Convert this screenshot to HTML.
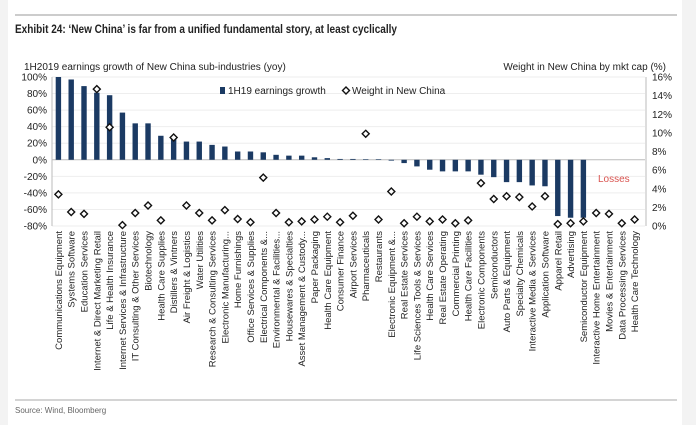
<!DOCTYPE html>
<html><head><meta charset="utf-8"><style>
body{margin:0;background:#f3f3f3;}
svg{display:block;font-family:"Liberation Sans",sans-serif;}
</style></head><body>
<svg width="696" height="425" viewBox="0 0 696 425">
<rect x="8" y="0" width="674" height="425" fill="#fff"/>
<line x1="15" y1="15" x2="677" y2="15" stroke="#999" stroke-width="1"/>
<text x="15" y="33" font-size="12" font-weight="bold" fill="#222" textLength="382" lengthAdjust="spacingAndGlyphs">Exhibit 24: ‘New China’ is far from a unified fundamental story, at least cyclically</text>
<text x="24" y="70" font-size="10" fill="#222">1H2019 earnings growth of New China sub-industries (yoy)</text>
<text x="666" y="70" font-size="10" fill="#222" text-anchor="end">Weight in New China by mkt cap (%)</text>
<g id="grid"></g>
<g id="bars"></g>
<g id="marks"></g>
<g id="axes"></g>
<g id="labels"></g>
<rect x="220" y="87" width="5" height="7" fill="#1b3a63"/>
<text x="228" y="94" font-size="10" fill="#222">1H19 earnings growth</text>
<path d="M346 87 l3.5 3.5 l-3.5 3.5 l-3.5 -3.5z" fill="#fff" stroke="#111" stroke-width="1.4"/>
<text x="352" y="94" font-size="10" fill="#222">Weight in New China</text>
<text x="598" y="182" font-size="10" fill="#d9534f">Losses</text>
<line x1="15" y1="400" x2="677" y2="400" stroke="#aaa" stroke-width="1"/>
<text x="15" y="413" font-size="8" fill="#666">Source: Wind, Bloomberg</text>
</svg>
<script>
const categories=["Communications Equipment","Systems Software","Education Services","Internet & Direct Marketing Retail","Life & Health Insurance","Internet Services & Infrastructure","IT Consulting & Other Services","Biotechnology","Health Care Supplies","Distillers & Vintners","Air Freight & Logistics","Water Utilities","Research & Consulting Services","Electronic Manufacturing...","Home Furnishings","Office Services & Supplies","Electrical Components &...","Environmental & Facilities...","Housewares & Specialties","Asset Management & Custody...","Paper Packaging","Health Care Equipment","Consumer Finance","Airport Services","Pharmaceuticals","Restaurants","Electronic Equipment &...","Real Estate Services","Life Sciences Tools & Services","Health Care Services","Real Estate Operating","Commercial Printing","Health Care Facilities","Electronic Components","Semiconductors","Auto Parts & Equipment","Specialty Chemicals","Interactive Media & Services","Application Software","Apparel Retail","Advertising","Semiconductor Equipment","Interactive Home Entertainment","Movies & Entertainment","Data Processing Services","Health Care Technology"];
const growth=[100,97,89,81,78,57,44,44,29,25,22,22,18,16,10,10,9,6,5,5,3,2,1,1,0.5,0.5,-1,-4,-8,-12,-14,-14,-14,-18,-21,-27,-27,-31,-32,-68,-70,-70,0,0,0,0];
const weight=[3.4,1.5,1.3,14.7,10.6,0.1,1.4,2.2,0.6,9.5,2.2,1.4,0.6,1.7,0.75,0.4,5.2,1.4,0.4,0.5,0.7,1.0,0.4,1.1,9.9,0.7,3.7,0.3,1.0,0.5,0.7,0.3,0.6,4.6,2.9,3.2,3.1,2.1,3.2,0.2,0.3,0.5,1.4,1.3,0.3,0.7];
const leftTicks=[100,80,60,40,20,0,-20,-40,-60,-80];
const rightTicks=[16,14,12,10,8,6,4,2,0];
const NS="http://www.w3.org/2000/svg";
const X0=52,X1=641,YT=77,YB=226;
const step=(X1-X0)/categories.length;
const xc=i=>X0+step*(i+0.5);
const yL=v=>YT+(100-v)/180*(YB-YT);
const yR=v=>YB-v/16*(YB-YT);
function mk(tag,attrs,parent){const e=document.createElementNS(NS,tag);for(const k in attrs)e.setAttribute(k,attrs[k]);document.getElementById(parent).appendChild(e);return e;}
leftTicks.forEach(t=>{
 const g=mk('line',{x1:X0,x2:X1+4,y1:yL(t),y2:yL(t),stroke:t===0?'#bbb':'#eee','stroke-width':1},'grid');
 
 
 const l=mk('text',{x:X0-5,y:yL(t)+3.5,'font-size':10,'text-anchor':'end',fill:'#222'},'axes');
 l.textContent=t+'%';
 
 
});
rightTicks.forEach(t=>{
 const l=mk('text',{x:652,y:yR(t)+3.5,'font-size':10,fill:'#222'},'axes');
 l.textContent=t+'%';
 
 
});
let a=mk('line',{x1:X0,x2:X0,y1:YT,y2:YB,stroke:'#bbb'},'axes');


a=mk('line',{x1:646,x2:646,y1:YT,y2:YB,stroke:'#bbb'},'axes');


categories.forEach((c,i)=>{
 const v=growth[i];
 if(v!==0){
  const y0=yL(0),y1=yL(v);
  const b=mk('rect',{x:xc(i)-2.7,y:Math.min(y0,y1),width:5.4,height:Math.max(0.6,Math.abs(y1-y0)),fill:'#1b3a63'},'bars');
  
  
 }
 const cx=xc(i),cy=yR(weight[i]);
 const d=mk('path',{d:`M${cx} ${cy-3.5} l3.5 3.5 l-3.5 3.5 l-3.5 -3.5z`,fill:'#fff',stroke:'#111','stroke-width':1.4},'marks');
 
 
 const t=mk('text',{x:0,y:0,'font-size':9.5,'text-anchor':'end',fill:'#222',transform:`translate(${cx+3.5},231) rotate(-90)`},'labels');
 t.textContent=c;
 
 
});
</script>
</body></html>
